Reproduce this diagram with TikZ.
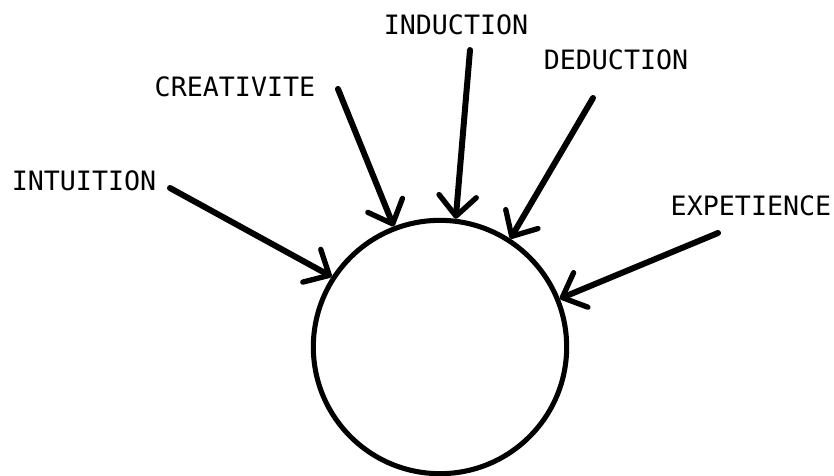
\documentclass[tikz,border=0pt]{standalone}
\usepackage{fontspec}
\setmonofont{DejaVu Sans Mono}
\usetikzlibrary{arrows.meta}
\begin{document}
\begin{tikzpicture}[x=0.75pt, y=-0.75pt,
  lbl/.style={font=\ttfamily\fontsize{20}{24}\selectfont, inner sep=0pt},
  feed/.style={line width=4.5pt, line cap=round, -{Straight Barb[length=15pt, width=28pt, line width=4pt, round]}}]
\useasboundingbox (0,0) rectangle (834,475);

\node[draw, circle, line width=3.8pt, minimum size=190pt, inner sep=0pt] (mind) at (440,347) {};

\node[lbl] (intuition) at (84,181) {INTUITION};
\node[lbl] (creativite) at (235,87) {CREATIVITE};
\node[lbl] (induction) at (456,25) {INDUCTION};
\node[lbl] (deduction) at (616,60) {DEDUCTION};
\node[lbl] (experience) at (751,206) {EXPETIENCE};

\coordinate (intuition-s) at (170,188);
\coordinate (creativite-s) at (338,89);
\coordinate (induction-s) at (470,50);
\coordinate (deduction-s) at (593,98);
\coordinate (experience-s) at (718,233);

\draw[feed] (intuition-s) -- (mind.147);
\draw[feed] (creativite-s) -- (mind.111);
\draw[feed] (induction-s) -- (mind.83);
\draw[feed] (deduction-s) -- (mind.57);
\draw[feed] (experience-s) -- (mind.22);
\end{tikzpicture}
\end{document}
